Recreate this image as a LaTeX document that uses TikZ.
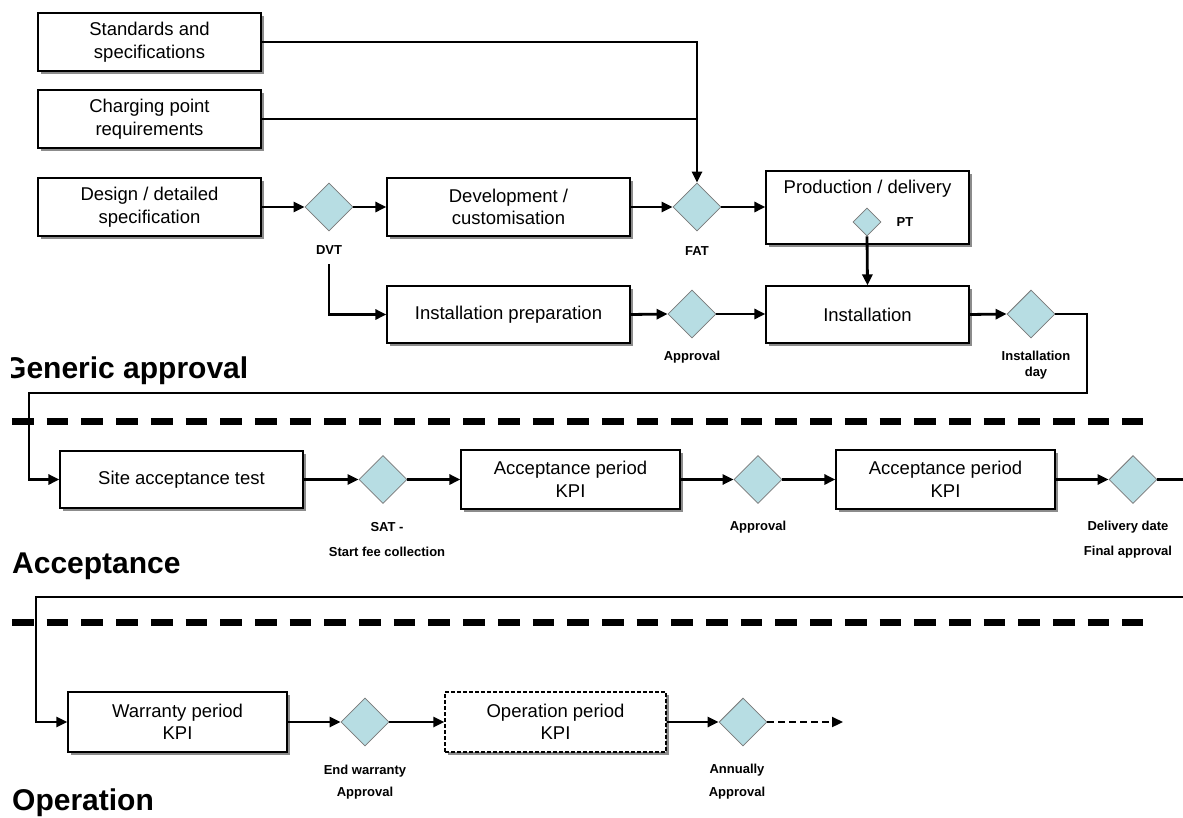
\documentclass[tikz,border=0pt]{standalone}
\usepackage{fontspec}
\setmainfont{Liberation Sans}
\usetikzlibrary{shapes.geometric,arrows.meta,shadows}
\definecolor{dfill}{RGB}{183,221,227}
\definecolor{dline}{RGB}{120,120,120}
\begin{document}
\begin{tikzpicture}[x=1pt,y=-1pt,
  box/.style={draw=black, line width=1.2pt, fill=white, inner sep=2pt, align=center,
    font=\fontsize{18.5}{22.5}\selectfont,
    drop shadow={shadow xshift=2.5pt, shadow yshift=-2.5pt, fill=black!45, opacity=1}},
  dia/.style={diamond, draw=dline, line width=0.8pt, fill=dfill, minimum width=48pt, minimum height=48pt, inner sep=0pt},
  lbl/.style={font=\bfseries\fontsize{13}{25}\selectfont, align=center, inner sep=0pt},
  conn/.style={line width=2.8pt, -{Triangle[length=11pt,width=10pt]}},
  plain/.style={line width=2.8pt},
  sepline/.style={line width=7pt, dash pattern=on 21.7pt off 13pt},
  head/.style={font=\bfseries\fontsize{30}{30}\selectfont, inner sep=0pt, anchor=base west}]
\useasboundingbox[fill=white] (0,0) rectangle (1183,817);

% section separators
\coordinate (s1a) at (12,421);
\coordinate (s1b) at (1143,421);
\coordinate (s2a) at (12,622);
\coordinate (s2b) at (1143,622);
\draw[sepline] (s1a) -- (s1b);
\draw[sepline] (s2a) -- (s2b);

% headings
\begin{scope}
\clip (11,330) rectangle (400,400);
\node[head] (hga) at (3,378) {Generic approval};
\end{scope}
\node[head] (hacc) at (12,573) {Acceptance};
\node[head] (hop) at (12,810.5) {Operation};

% generic approval row
\node[box, minimum width=223pt, minimum height=58pt] (std) at (149.5,42) {Standards and\\specifications};
\node[box, minimum width=223pt, minimum height=58pt] (chg) at (149.5,119) {Charging point\\requirements};
\node[box, minimum width=223pt, minimum height=58pt] (des) at (149.5,207) {Design / detailed\\specification};
\node[dia] (dvt) at (329,207) {};
\node[lbl] (dvtl) at (329,250) {DVT};
\node[box, minimum width=243pt, minimum height=58pt] (dev) at (508.5,207) {Development /\\customisation};
\node[dia] (fat) at (697,207) {};
\node[lbl] (fatl) at (697,251) {FAT};
\node[box, minimum width=203pt, minimum height=73pt] (prod) at (867.5,207.5) {};
\node[font=\fontsize{18.5}{22.5}\selectfont, inner sep=0pt] (prodt) at (867.5,189) {Production / delivery};
\node[dia, minimum width=28pt, minimum height=28pt] (pt) at (867,222) {};
\node[lbl] (ptl) at (905,222) {PT};

\node[box, minimum width=243pt, minimum height=57pt] (prep) at (508.5,314.5) {Installation preparation};
\node[dia] (ap1d) at (692,314) {};
\node[lbl] (ap1l) at (692,357) {Approval};
\node[box, minimum width=203pt, minimum height=57pt] (inst) at (867.5,314.5) {Installation};
\node[dia] (iday) at (1031,314) {};
\node[lbl, font=\bfseries\fontsize{13}{16}\selectfont] (idayl) at (1036,365) {Installation\\day};

% acceptance row
\node[box, minimum width=243pt, minimum height=57pt] (sat) at (181.5,479.5) {Site acceptance test};
\node[dia] (satd) at (383,479.5) {};
\node[lbl] (satl) at (387,540) {SAT -\\Start fee collection};
\node[box, minimum width=219pt, minimum height=59pt] (acc1) at (570.5,479.5) {Acceptance period\\KPI};
\node[dia] (ap2d) at (758,479.5) {};
\node[lbl] (ap2l) at (758,527) {Approval};
\node[box, minimum width=219pt, minimum height=59pt] (acc2) at (945.5,479.5) {Acceptance period\\KPI};
\node[dia] (deld) at (1133,479.5) {};
\node[lbl] (dell) at (1128,540) {Delivery date\\Final approval};

% operation row
\node[box, minimum width=219pt, minimum height=60pt] (war) at (177.5,722) {Warranty period\\KPI};
\node[dia] (ewd) at (365,722) {};
\node[lbl, font=\bfseries\fontsize{13}{22}\selectfont] (ewl) at (365,782) {End warranty\\Approval};
\node[box, minimum width=221pt, minimum height=60pt, dash pattern=on 4pt off 2pt, line width=1.3pt] (opb) at (555.5,722) {Operation period\\KPI};
\node[dia] (annd) at (743,722) {};
\node[lbl, font=\bfseries\fontsize{13}{23}\selectfont] (annl) at (737,781.5) {Annually\\Approval};

% helper coordinates
\coordinate (dvtc) at (329,264);
\coordinate (c1) at (1087,393);
\coordinate (c2) at (29,393);
\coordinate (rx1) at (1184,479.5);
\coordinate (rx2) at (1184,597);
\coordinate (c3) at (36,597);
\coordinate (endc) at (843,722);

% connectors
\draw[plain] (chg.east) -- (chg.east -| fat.north);
\draw[conn] (std.east) -| (fat.north);
\draw[conn] (des.east) -- (dvt.west);
\draw[conn] (dvt.east) -- (dev.west);
\draw[conn] (dev.east) -- (fat.west);
\draw[conn] (fat.east) -- (fat.east -| prod.west);
\draw[conn] (dvtc) |- (prep.west);
\draw[conn] (prep.east) -- (ap1d.west);
\draw[conn] (ap1d.east) -- (ap1d.east -| inst.west);
\draw[conn] (pt.south) -- (inst.north);
\draw[conn] (inst.east) -- (iday.west);
\draw[conn] (iday.east) -| (c1) -- (c2) |- (sat.west);

\draw[conn] (sat.east) -- (satd.west);
\draw[conn] (satd.east) -- (acc1.west);
\draw[conn] (acc1.east) -- (ap2d.west);
\draw[conn] (ap2d.east) -- (acc2.west);
\draw[conn] (acc2.east) -- (deld.west);
\draw[plain] (deld.east) -- (rx1);
\draw[conn, line width=2.2pt] (rx2) -- (c3) |- (war.west);

\draw[conn] (war.east) -- (ewd.west);
\draw[conn] (ewd.east) -- (opb.west);
\draw[conn] (opb.east) -- (annd.west);
\draw[line width=2.2pt, dash pattern=on 7pt off 4pt, -{Triangle[length=11pt,width=10pt]}] (annd.east) -- (endc);
\end{tikzpicture}
\end{document}
